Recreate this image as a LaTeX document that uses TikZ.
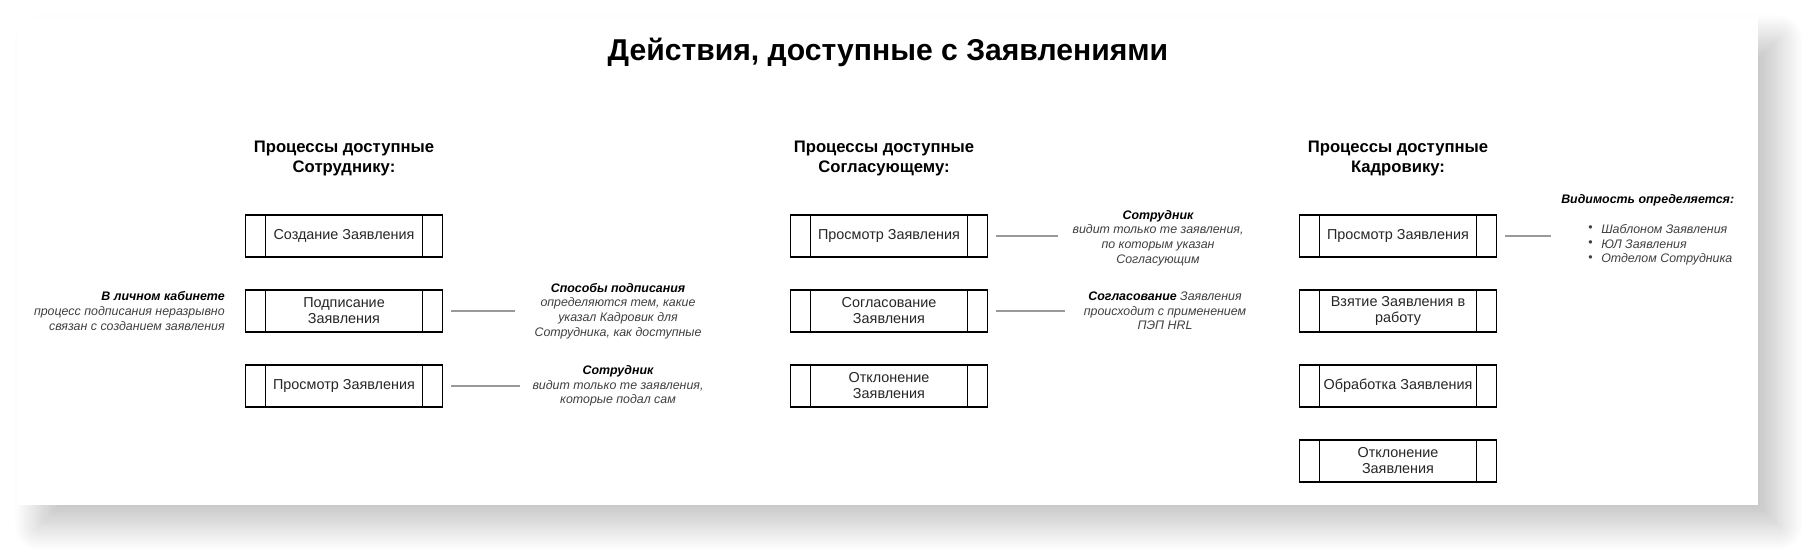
\documentclass[tikz,border=0pt]{standalone}
\usepackage{fontspec}
\setmainfont{Liberation Sans}
\usetikzlibrary{shadows.blur}
\newcommand{\resaltar}[1]{{\color{black}\bfseries #1}}
\tikzstyle{proceso}=[rectangle, draw, line width=0.8pt, minimum width=147.75pt, minimum height=31.5pt, inner sep=2pt, align=center, text=black!85, font=\fontsize{10.8}{12}\selectfont,
    path picture={
        \draw[line width=0.8pt] ([xshift=15pt]path picture bounding box.north west) -- ([xshift=15pt]path picture bounding box.south west);
        \draw[line width=0.8pt] ([xshift=-15pt]path picture bounding box.north east) -- ([xshift=-15pt]path picture bounding box.south east);
    }]
\tikzstyle{encabezado}=[align=center, font=\bfseries\fontsize{12.5}{15}\selectfont]
\tikzstyle{nota}=[align=center, inner sep=0pt, text=black!75, font=\itshape\fontsize{9.3}{11}\selectfont]
\tikzstyle{enlace}=[draw=black!40, line width=1pt]

\begin{document}
\begin{tikzpicture}[x=0.75pt, y=-0.75pt]
        \useasboundingbox (0,0) rectangle (1808,553);
        % Hoja con sombra
        \node[fill=white, inner sep=0pt, minimum width=1305.75pt, minimum height=366pt,
            blur shadow={shadow xshift=0pt, shadow yshift=0pt, shadow blur radius=14pt, shadow opacity=3, shadow blur steps=20},
            blur shadow={shadow xshift=16pt, shadow yshift=-16pt, shadow blur radius=18pt, shadow opacity=12, shadow blur steps=30}] (hoja) at (887.5,261) {};

        \node[font=\bfseries\fontsize{22.6}{26}\selectfont] (titulo) at (888,52) {Действия, доступные с Заявлениями};

        \begin{scope}[shift={(344,0)}]
            % Procesos del empleado
            \node[encabezado] (enc1) at (0,158) {Процессы доступные\\Сотруднику:};
            \foreach \t [count=\i] in {Создание Заявления, Подписание\\Заявления, Просмотр Заявления}{
                \node[proceso] (s\i) at (0,{161+75*\i}) {\t};
            }

            \node[nota, anchor=east, align=right] (n0) at (-119,311) {\resaltar{В личном кабинете}\\процесс подписания неразрывно\\связан с созданием заявления};
            \node[nota] (n1) at (274,311) {\resaltar{Способы подписания}\\определяются тем, какие\\указал Кадровик для\\Сотрудника, как доступные};
            \node[nota] (n2) at (274,386) {\resaltar{Сотрудник}\\видит только те заявления,\\которые подал сам};

            \draw[enlace] ([xshift=6pt]s2.east) -- ++(64,0);
            \draw[enlace] ([xshift=6pt]s3.east) -- ++(69,0);
        \end{scope}

        \begin{scope}[shift={(889,0)}]
            % Procesos del aprobador
            \node[encabezado] (enc2) at (-5,158) {Процессы доступные\\Согласующему:};
            \foreach \t [count=\i] in {Просмотр Заявления, Согласование\\Заявления, Отклонение\\Заявления}{
                \node[proceso] (a\i) at (0,{161+75*\i}) {\t};
            }

            \node[nota] (n3) at (269,238) {\resaltar{Сотрудник}\\видит только те заявления,\\по которым указан\\Согласующим};
            \node[nota] (n4) at (276,311) {\resaltar{Согласование} Заявления\\происходит с применением\\ПЭП HRL};

            \draw[enlace] ([xshift=6pt]a1.east) -- ++(62,0);
            \draw[enlace] ([xshift=6pt]a2.east) -- ++(69,0);
        \end{scope}

        \begin{scope}[shift={(1398,0)}]
            % Procesos de RRHH
            \node[encabezado] (enc3) at (0,158) {Процессы доступные\\Кадровику:};
            \foreach \t [count=\i] in {Просмотр Заявления, Взятие Заявления в\\работу, Обработка Заявления, Отклонение\\Заявления}{
                \node[proceso] (k\i) at (0,{161+75*\i}) {\t};
            }

            \node[nota, anchor=west] (vis) at (163,200) {\resaltar{Видимость определяется:}};
            \foreach \t [count=\i] in {Шаблоном Заявления, ЮЛ Заявления, Отделом Сотрудника}{
                \node[nota, font=\fontsize{9.3}{11}\selectfont, anchor=west] (p\i) at (190,{214+15*\i}) {\textbullet};
                \node[nota, anchor=west] (v\i) at (203,{214+15*\i}) {\t};
            }

            \draw[enlace] ([xshift=6pt]k1.east) -- ++(46,0);
        \end{scope}
    \end{tikzpicture}
\end{document}
